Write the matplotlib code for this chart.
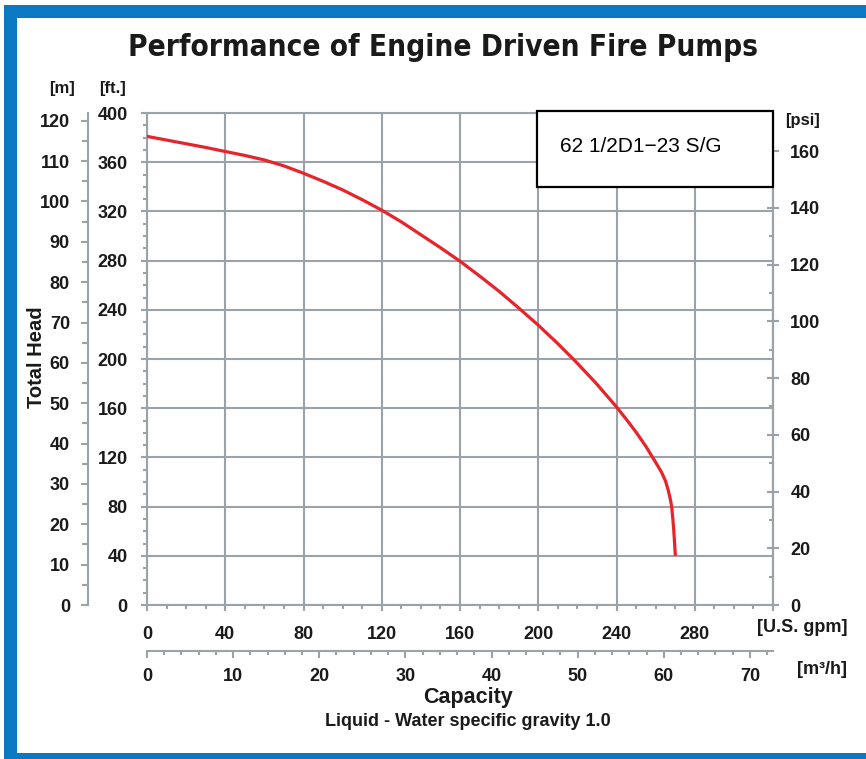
import matplotlib
matplotlib.use("Agg")
from matplotlib import pyplot as plt
from matplotlib.patches import Rectangle
from matplotlib.ticker import MultipleLocator

FT_PER_M = 3.28084
PSI_PER_FT = 0.4335
M3H_PER_GPM = 0.22712

# pump curve (U.S. gpm vs total head in ft)
flow_gpm = [0, 10, 20, 30, 40, 50, 60, 70, 80, 90, 100, 110, 120, 130, 140,
            150, 160, 170, 180, 190, 200, 210, 220, 230, 240, 245, 250, 255,
            260, 263, 265, 266.5, 267.5, 268.2, 268.8, 269.3, 269.7, 270.1]
head_ft = [381, 378, 375, 372, 368.7, 365.5, 361.8, 357, 351, 344.5, 337.5,
           329.5, 321, 311.5, 301, 290.5, 279.5, 267.5, 255, 241.5, 227.5,
           212.5, 196.5, 179.5, 161, 151, 140.5, 129, 116, 108, 101, 93, 86,
           80, 70, 60, 50, 40]

gpm_ticks = list(range(0, 321, 40))
gpm_labels = [str(v) for v in gpm_ticks[:-1]] + [""]
ft_ticks = list(range(0, 401, 40))
m_ticks = list(range(0, 121, 10))
psi_ticks = list(range(0, 161, 20))
m3h_ticks = list(range(0, 71, 10))
model_label = "62 1/2D1\u221223 S/G"

GRID = "#9ba2aa"
RED = "#e8232a"
BLUE = "#0a78c2"
TXT = "#1a1a1a"
TICK_FS = 13

plt.rcParams["font.family"] = ["Liberation Sans", "DejaVu Sans"]
plt.rcParams["font.weight"] = "bold"

W, H = 866, 759
fig = plt.figure(figsize=(W / 100, H / 100), dpi=100)

def fx(px):
    return px / W

def fy(py):
    return 1 - py / H

# blue frame (left, top, bottom)
fig.patches.append(Rectangle((fx(9.5), fy(759.5)), fx(890) - fx(9.5), fy(10.5) - fy(759.5),
                             transform=fig.transFigure, fill=False,
                             edgecolor=BLUE, linewidth=13 * 0.72))

ax = fig.add_axes([fx(147), fy(605), fx(773) - fx(147), fy(113) - fy(605)])
ax.set_xlim(0, 320)
ax.set_ylim(0, 400)
ax.plot(flow_gpm, head_ft, color=RED, linewidth=2.3, solid_capstyle="butt",
        solid_joinstyle="round", zorder=3)

ax.set_xticks(gpm_ticks)
ax.set_xticklabels(gpm_labels)
ax.set_yticks(ft_ticks)
ax.xaxis.set_minor_locator(MultipleLocator(10))
ax.yaxis.set_minor_locator(MultipleLocator(10))
ax.grid(True, which="major", color=GRID, linewidth=1.5)
for s in ax.spines.values():
    s.set_color(GRID)
    s.set_linewidth(1.5)
ax.tick_params(which="both", colors=GRID, labelcolor=TXT, labelsize=TICK_FS, width=1.5)
ax.tick_params(axis="y", which="major", length=4, pad=10)
ax.tick_params(axis="x", which="major", length=4, pad=11)
ax.tick_params(which="minor", length=3)

# metres on the far left
m_ax = ax.secondary_yaxis(-(147 - 88) / 626, functions=(lambda f: f / FT_PER_M, lambda m: m * FT_PER_M))
m_ax.set_yticks(m_ticks)
m_ax.yaxis.set_minor_locator(MultipleLocator(5))
m_ax.spines["left"].set_color(GRID)
m_ax.spines["left"].set_linewidth(1.5)
m_ax.tick_params(which="both", colors=GRID, labelcolor=TXT, labelsize=TICK_FS, width=1.5)
m_ax.tick_params(which="major", length=5, pad=8)
m_ax.tick_params(which="minor", length=4)

# psi on the right
psi_ax = ax.secondary_yaxis("right", functions=(lambda f: f * PSI_PER_FT, lambda p: p / PSI_PER_FT))
psi_ax.set_yticks(psi_ticks)
psi_ax.yaxis.set_minor_locator(MultipleLocator(10))
psi_ax.spines["right"].set_color(GRID)
psi_ax.spines["right"].set_linewidth(1.5)
psi_ax.tick_params(which="both", colors=GRID, labelcolor=TXT, labelsize=TICK_FS, width=1.5)
psi_ax.tick_params(which="major", direction="inout", length=9, pad=8)
psi_ax.tick_params(which="minor", direction="in", length=3)

# m3/h below
m3_ax = ax.secondary_xaxis(-(651 - 605) / 492, functions=(lambda g: g * M3H_PER_GPM, lambda q: q / M3H_PER_GPM))
m3_ax.set_xticks(m3h_ticks)
m3_ax.xaxis.set_minor_locator(MultipleLocator(2))
m3_ax.spines["bottom"].set_color(GRID)
m3_ax.spines["bottom"].set_linewidth(1.5)
m3_ax.tick_params(which="both", colors=GRID, labelcolor=TXT, labelsize=TICK_FS, width=1.5)
m3_ax.tick_params(which="major", length=5, pad=7)
m3_ax.tick_params(which="minor", length=3)

# model box
ax.add_patch(Rectangle((0.623, 0.850), 0.377, 0.154, transform=ax.transAxes,
                       facecolor="white", edgecolor="black", linewidth=1.6,
                       clip_on=False, zorder=5))
ax.text(0.659, 0.931, model_label, transform=ax.transAxes, ha="left", va="center",
        fontsize=15, fontweight="normal", color="black", zorder=6)

fig.text(fx(443), fy(48), "Performance of Engine Driven Fire Pumps",
         ha="center", va="center", fontsize=21.3, fontweight="bold", color=TXT,
         fontstretch="condensed", family=["DejaVu Sans"])
fig.text(fx(37), fy(357), "Total Head", rotation=90, ha="center", va="center",
         fontsize=14.5, color=TXT)
fig.text(fx(62), fy(89), "[m]", ha="center", va="center", fontsize=12, color=TXT)
fig.text(fx(113), fy(89), "[ft.]", ha="center", va="center", fontsize=12, color=TXT)
fig.text(fx(803), fy(120), "[psi]", ha="center", va="center", fontsize=12, color=TXT)
fig.text(fx(802), fy(627), "[U.S. gpm]", ha="center", va="center", fontsize=13, color=TXT)
fig.text(fx(822), fy(669), "[m\u00b3/h]", ha="center", va="center", fontsize=13, color=TXT)
fig.text(fx(468), fy(698), "Capacity", ha="center", va="center", fontsize=15.5, color=TXT)
fig.text(fx(468), fy(721), "Liquid - Water specific gravity 1.0", ha="center", va="center",
         fontsize=13, color=TXT)

fig.savefig("out.png", dpi=100)
